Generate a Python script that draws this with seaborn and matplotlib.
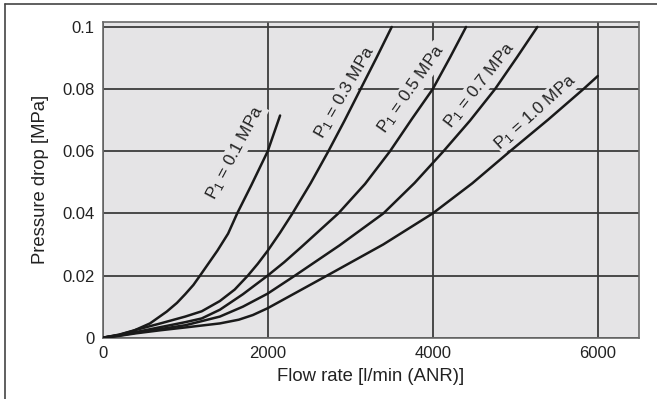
import numpy as np
import pandas as pd
import seaborn as sns
import matplotlib.pyplot as plt
from matplotlib.lines import Line2D

# values
flow_01 = [0, 200, 370, 573, 776, 900, 1000, 1100, 1180, 1390, 1520, 1630, 1800, 2000, 2150]
dp_01 = [0, 0.0009, 0.0022, 0.0046, 0.0084, 0.0112, 0.0140, 0.0170, 0.020, 0.028, 0.0335, 0.040, 0.049, 0.060, 0.0715]

flow_03 = [0, 200, 400, 700, 1000, 1200, 1420, 1600, 1760, 1880, 2000, 2150, 2300, 2520, 2735, 2930, 3125, 3315, 3503]
dp_03 = [0, 0.0010, 0.0025, 0.0046, 0.0068, 0.0085, 0.0118, 0.0155, 0.020, 0.0238, 0.028, 0.0338, 0.040, 0.0497, 0.060, 0.0698, 0.080, 0.0899, 0.100]

flow_05 = [0, 200, 400, 700, 1000, 1200, 1420, 1700, 2000, 2200, 2400, 2856, 3180, 3482, 3750, 4000, 4210, 4404]
dp_05 = [0, 0.0008, 0.0018, 0.0034, 0.0050, 0.0062, 0.0090, 0.0140, 0.020, 0.0243, 0.029, 0.040, 0.0495, 0.060, 0.0705, 0.080, 0.0902, 0.100]

flow_07 = [0, 200, 400, 700, 1000, 1420, 1700, 2000, 2331, 2870, 3402, 3780, 4130, 4450, 4755, 5020, 5268]
dp_07 = [0, 0.0007, 0.0016, 0.0028, 0.0040, 0.0068, 0.0100, 0.0142, 0.020, 0.0297, 0.040, 0.0498, 0.060, 0.0698, 0.080, 0.0902, 0.100]

flow_10 = [0, 200, 400, 700, 1000, 1420, 1650, 1820, 2000, 2720, 3400, 4000, 4480, 4937, 5400, 5826, 6000]
dp_10 = [0, 0.0006, 0.0014, 0.0024, 0.0033, 0.0046, 0.0058, 0.0073, 0.0095, 0.020, 0.030, 0.040, 0.0497, 0.060, 0.0702, 0.080, 0.0842]

series_names = ['0.1', '0.3', '0.5', '0.7', '1.0']
flows = [flow_01, flow_03, flow_05, flow_07, flow_10]
drops = [dp_01, dp_03, dp_05, dp_07, dp_10]

# label anchor points (x, y, angle)
label_x = [1610, 2930, 3740, 4565, 5250]
label_y = [0.0597, 0.0790, 0.0800, 0.0813, 0.0727]
label_rot = [62, 60, 55, 52, 42]

x_ticks = [0, 2000, 4000, 6000]
y_ticks = [0, 0.02, 0.04, 0.06, 0.08, 0.1]
y_tick_labels = ['0', '0.02', '0.04', '0.06', '0.08', '0.1']

bg = '#e5e4e6'
sns.set_style('white', {'axes.facecolor': bg, 'axes.edgecolor': '#6a6a6a'})
plt.rcParams['font.family'] = ['Liberation Sans', 'DejaVu Sans']
plt.rcParams['mathtext.default'] = 'regular'

fig = plt.figure(figsize=(6.57, 3.99), dpi=100)
ax = fig.add_axes([0.1563, 0.1536, 0.8163, 0.7913])

for name, fx, fy in zip(series_names, flows, drops):
    df = pd.DataFrame({'flow': fx, 'dp': fy})
    sns.lineplot(data=df, x='flow', y='dp', ax=ax, color='#1a1a1a', lw=1.8, zorder=5)

# labels hide the grid behind them, curves stay on top
for name, lx, ly, rot in zip(series_names, label_x, label_y, label_rot):
    ax.text(lx, ly, 'P$_1$ = ' + name + ' MPa', rotation=rot, rotation_mode='anchor',
            ha='center', va='center', fontsize=12.3, color='#222222', zorder=4,
            bbox=dict(facecolor=bg, edgecolor='none', pad=0.6))

ax.set_xlim(0, 6500)
ax.set_ylim(0, 0.1016)
ax.set_xticks(x_ticks)
ax.set_xticklabels([str(t) for t in x_ticks])
ax.set_yticks(y_ticks)
ax.set_yticklabels(y_tick_labels)
ax.grid(True, color='#3c3c3c', lw=1.3)
ax.set_axisbelow(True)
ax.tick_params(length=0, labelsize=12, colors='#222222', pad=6)
for s in ax.spines.values():
    s.set_linewidth(1.2)

ax.set_xlabel('Flow rate [l/min (ANR)]', fontsize=13.3, color='#222222', labelpad=5)
ax.set_ylabel('Pressure drop [MPa]', fontsize=13.3, color='#222222', labelpad=9)

# frame around the figure (left and top edges visible in the reference)
fig.add_artist(Line2D([0.008, 0.008], [0, 0.99], transform=fig.transFigure, color='#444444', lw=1.2))
fig.add_artist(Line2D([0.008, 1.0], [0.99, 0.99], transform=fig.transFigure, color='#444444', lw=1.2))

fig.savefig('out.png', dpi=100, facecolor='white')
